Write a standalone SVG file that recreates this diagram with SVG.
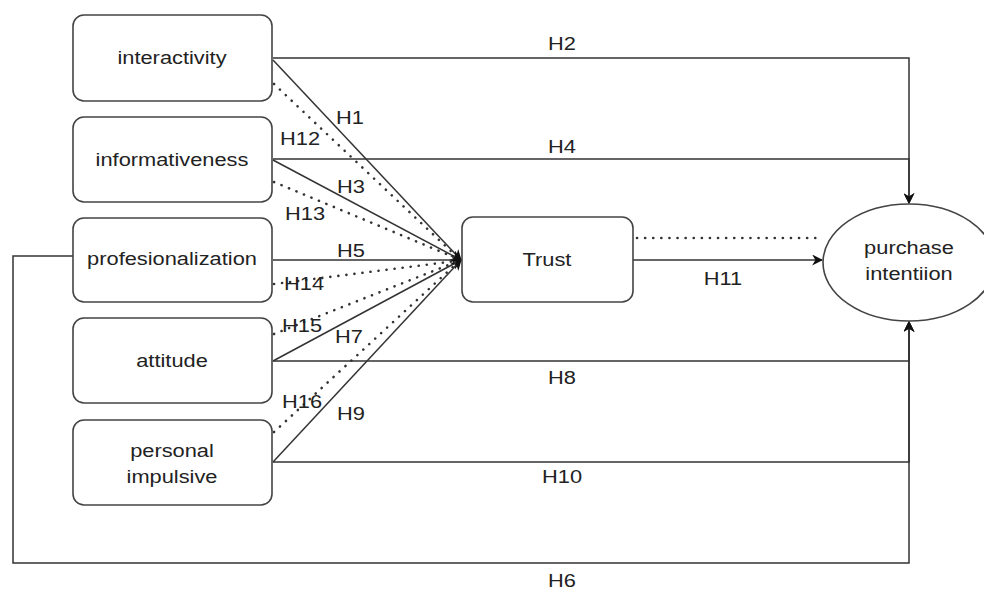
<svg xmlns="http://www.w3.org/2000/svg" width="984" height="589" viewBox="0 0 984 589">
<style>
.box{fill:#fff;stroke:#444;stroke-width:1.6}
.t{font-family:"Liberation Sans",Arial,sans-serif;font-size:18.5px;fill:#222;text-anchor:middle}
.ln{fill:none;stroke:#333;stroke-width:1.5}
.dt{fill:none;stroke:#333;stroke-width:2.6;stroke-dasharray:0.1 8;stroke-linecap:round}
</style>
<defs>
<marker id="arr" viewBox="0 0 10 10" refX="9" refY="5" markerWidth="11" markerHeight="11" markerUnits="userSpaceOnUse" orient="auto">
<path d="M0,0 L10,5 L0,10 L3,5 z" fill="#111"/>
</marker>
</defs>
<rect width="984" height="589" fill="#fff"/>
<g id="connectors">
<path class="ln" d="M273,58 H909 V203" marker-end="url(#arr)"/>
<path class="ln" d="M273,159 H909 V203" marker-end="url(#arr)"/>
<path class="ln" d="M273,361 H909 V322" marker-end="url(#arr)"/>
<path class="ln" d="M273,462 H909 V322" marker-end="url(#arr)"/>
<path class="ln" d="M73,256 H13 V563 H909 V322" marker-end="url(#arr)"/>
<path class="ln" d="M633,260 H822" marker-end="url(#arr)"/>
<path class="dt" d="M637,238 H820"/>
<path class="ln" d="M273,60 L461,260" marker-end="url(#arr)"/>
<path class="ln" d="M273,160 L461,260" marker-end="url(#arr)"/>
<path class="ln" d="M273,260 L461,260" marker-end="url(#arr)"/>
<path class="ln" d="M273,361 L461,260" marker-end="url(#arr)"/>
<path class="ln" d="M273,462 L461,260" marker-end="url(#arr)"/>
<path class="dt" d="M274,84 L456,256"/>
<path class="dt" d="M274,182 L456,258"/>
<path class="dt" d="M274,284 L456,261"/>
<path class="dt" d="M274,334 L456,262"/>
<path class="dt" d="M274,432 L456,264"/>
</g>
<g id="labels">
<text class="t" transform="translate(562,50) scale(1.18,1)">H2</text>
<text class="t" transform="translate(562,153) scale(1.18,1)">H4</text>
<text class="t" transform="translate(562,384) scale(1.18,1)">H8</text>
<text class="t" transform="translate(562,483) scale(1.18,1)">H10</text>
<text class="t" transform="translate(562,587) scale(1.18,1)">H6</text>
<text class="t" transform="translate(723,285) scale(1.18,1)">H11</text>
<text class="t" transform="translate(350,124) scale(1.18,1)">H1</text>
<text class="t" transform="translate(300,145) scale(1.18,1)">H12</text>
<text class="t" transform="translate(351,193) scale(1.18,1)">H3</text>
<text class="t" transform="translate(305,220) scale(1.18,1)">H13</text>
<text class="t" transform="translate(351,257) scale(1.18,1)">H5</text>
<text class="t" transform="translate(304,290) scale(1.18,1)">H14</text>
<text class="t" transform="translate(302,332) scale(1.18,1)">H15</text>
<text class="t" transform="translate(349,343) scale(1.18,1)">H7</text>
<text class="t" transform="translate(302,408) scale(1.18,1)">H16</text>
<text class="t" transform="translate(351,420) scale(1.18,1)">H9</text>
</g>
<g id="interactivity">
<rect class="box" x="73" y="15" width="199" height="86" rx="11"/>
<text class="t" transform="translate(172,64) scale(1.18,1)">interactivity</text>
</g>
<g id="informativeness">
<rect class="box" x="73" y="117" width="199" height="85" rx="11"/>
<text class="t" transform="translate(172,166) scale(1.18,1)">informativeness</text>
</g>
<g id="profesionalization">
<rect class="box" x="73" y="218" width="199" height="84" rx="11"/>
<text class="t" transform="translate(172,265) scale(1.18,1)">profesionalization</text>
</g>
<g id="attitude">
<rect class="box" x="73" y="318" width="199" height="85" rx="11"/>
<text class="t" transform="translate(172,367) scale(1.18,1)">attitude</text>
</g>
<g id="personal-impulsive">
<rect class="box" x="73" y="420" width="199" height="85" rx="11"/>
<text class="t" transform="translate(172,457) scale(1.18,1)">personal</text>
<text class="t" transform="translate(172,483) scale(1.18,1)">impulsive</text>
</g>
<g id="trust">
<rect class="box" x="462" y="217" width="171" height="85" rx="11"/>
<text class="t" transform="translate(547,266) scale(1.18,1)">Trust</text>
</g>
<g id="purchase-intention">
<ellipse class="box" cx="909" cy="262.5" rx="86" ry="58.5"/>
<text class="t" transform="translate(909,254) scale(1.18,1)">purchase</text>
<text class="t" transform="translate(909,280) scale(1.18,1)">intentiion</text>
</g>
</svg>
